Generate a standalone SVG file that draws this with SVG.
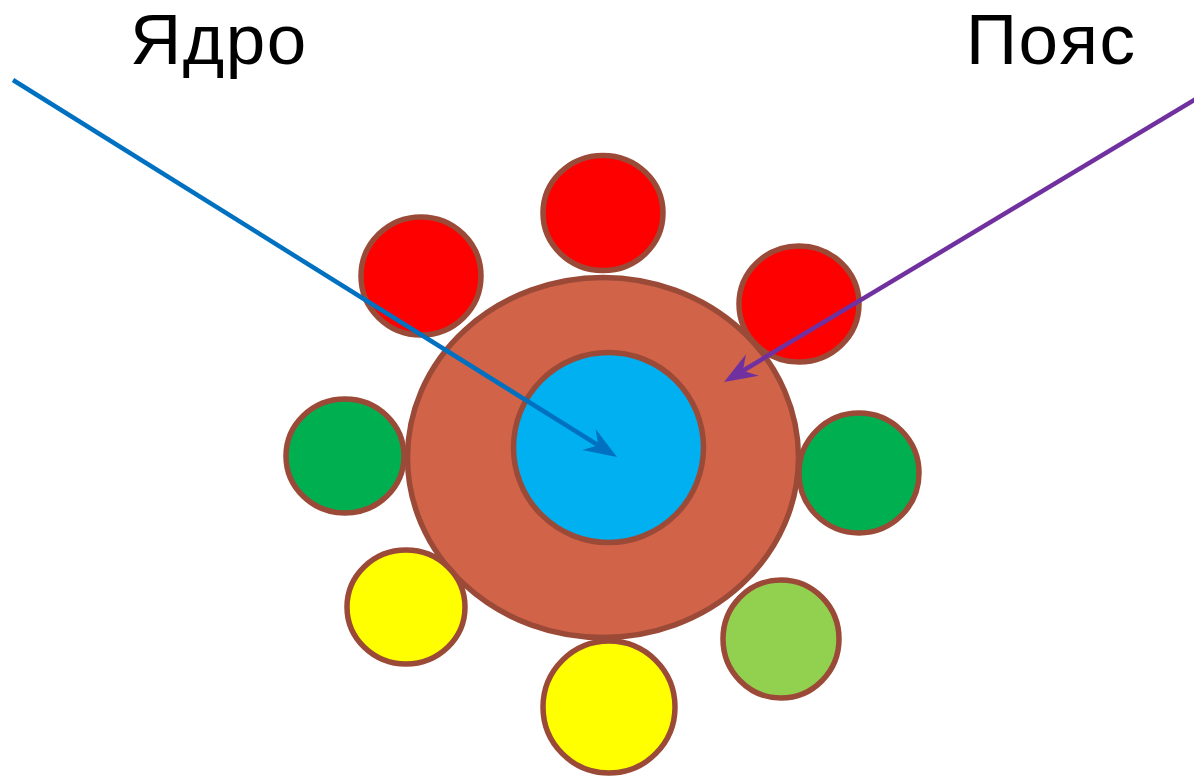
<svg xmlns="http://www.w3.org/2000/svg" width="1194" height="777" viewBox="0 0 1194 777">
<style>
.c{stroke:#9B4A38;stroke-width:5.5}
.lbl{font-family:"Liberation Sans",Arial,sans-serif;font-size:71px;letter-spacing:1.5px;fill:#000}
.red{fill:#FF0000}.grn{fill:#00B050}.yel{fill:#FFFF00}.lgr{fill:#92D050}
</style>
<defs>
<marker id="ab" markerUnits="userSpaceOnUse" orient="auto" viewBox="-15 -14 37 28" refX="0" refY="0" markerWidth="37" markerHeight="28" overflow="visible">
<path d="M20,0 L-13,-12.5 L-2,0 L-13,12.5 Z" fill="#0070C0"/>
</marker>
<marker id="ap" markerUnits="userSpaceOnUse" orient="auto" viewBox="-15 -14 37 28" refX="0" refY="0" markerWidth="37" markerHeight="28" overflow="visible">
<path d="M20,0 L-13,-12.5 L-2,0 L-13,12.5 Z" fill="#7030A0"/>
</marker>
</defs>
<rect width="1194" height="777" fill="#fff"/>
<g id="belt"><ellipse class="c" cx="603" cy="457.5" rx="195.5" ry="180" fill="#D16349"/></g>
<g id="core"><ellipse class="c" cx="608.5" cy="447.5" rx="95" ry="95" fill="#00B0F0"/></g>
<g id="n-top"><ellipse class="c red" cx="603" cy="213" rx="60" ry="57.5"/></g>
<g id="n-ul"><ellipse class="c red" cx="421" cy="276" rx="60" ry="59"/></g>
<g id="n-ur"><ellipse class="c red" cx="799" cy="304" rx="60" ry="58"/></g>
<g id="n-l"><ellipse class="c grn" cx="345" cy="456" rx="59" ry="57"/></g>
<g id="n-r"><ellipse class="c grn" cx="859" cy="473" rx="60" ry="60"/></g>
<g id="n-ll"><ellipse class="c yel" cx="406" cy="607" rx="59" ry="57"/></g>
<g id="n-b"><ellipse class="c yel" cx="609" cy="707" rx="66" ry="66"/></g>
<g id="n-lr"><ellipse class="c lgr" cx="781" cy="639" rx="58" ry="59"/></g>
<g id="connectors" stroke-width="4.5" fill="none">
<line x1="13" y1="80" x2="600" y2="446.4" stroke="#0070C0" marker-end="url(#ab)"/>
<line x1="1196" y1="99" x2="741.2" y2="371.7" stroke="#7030A0" marker-end="url(#ap)"/>
</g>
<g id="labels">
<text class="lbl" x="130" y="63.5">Ядро</text>
<text class="lbl" x="966" y="63.5">Пояс</text>
</g>
</svg>
